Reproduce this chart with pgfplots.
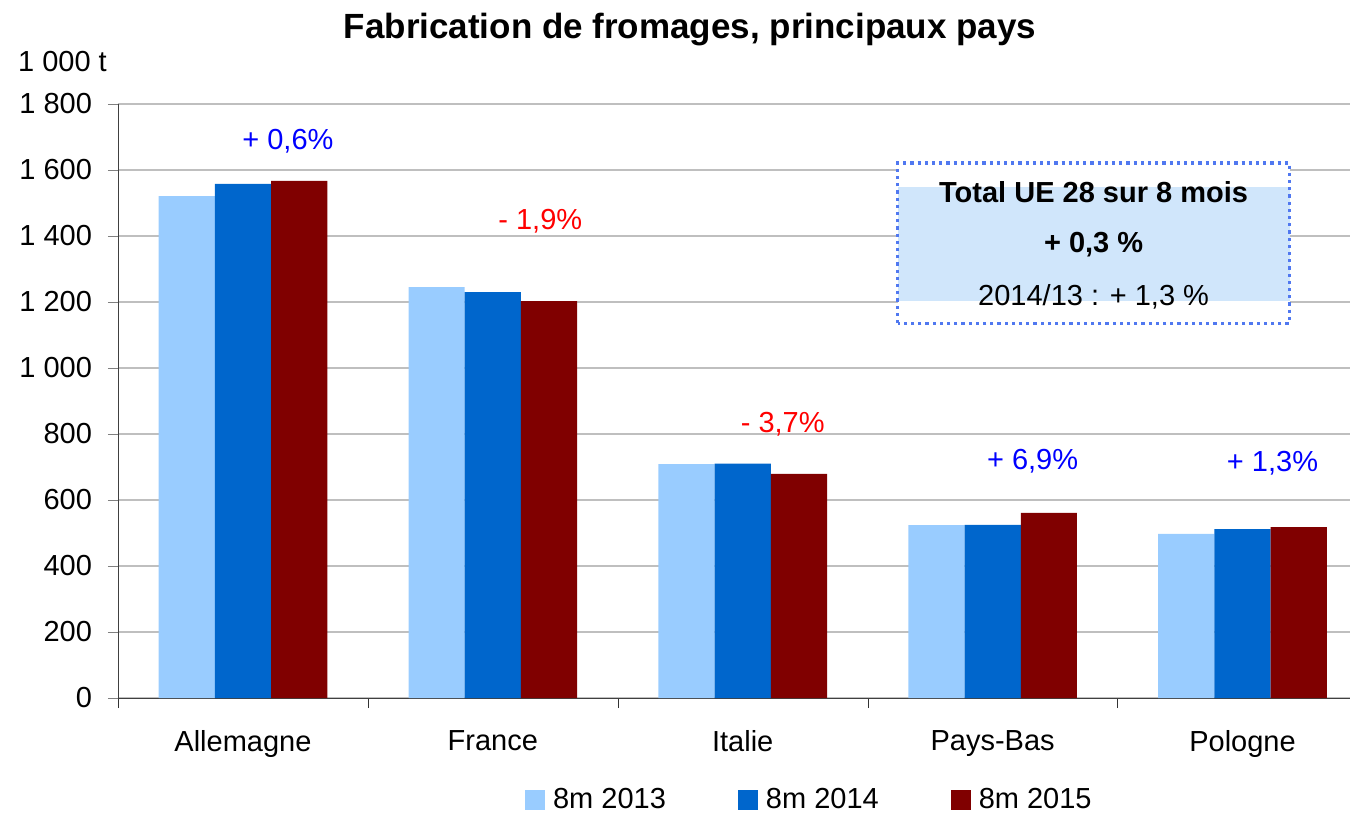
\documentclass[border=0pt]{standalone}
\usepackage{fontspec}
\setmainfont{Liberation Sans}
\usepackage{pgfplots}
\pgfplotsset{compat=1.18}

\definecolor{c13}{RGB}{153,204,255}
\definecolor{c14}{RGB}{0,102,204}
\definecolor{c15}{RGB}{128,0,0}
\definecolor{boxfill}{RGB}{208,230,251}
\definecolor{boxline}{RGB}{80,120,240}

\begin{document}
\fontsize{14.5}{17}\selectfont
\begin{tikzpicture}
\useasboundingbox (-59pt,-58pt) rectangle (616pt,349pt);
\begin{axis}[
    at={(0,0)}, anchor=south west,
    scale only axis,
    width=616pt, height=297pt,
    ybar=0pt, bar width=0.225,
    xmin=-0.5, xmax=4.43,
    ymin=0, ymax=1800,
    axis lines*=left,
    axis line style={draw=black!75},
    xtick={0,1,2,3,4},
    xticklabels={Allemagne,France,Italie,Pays-Bas,Pologne},
    major x tick style={draw=none},
    minor xtick={-0.5,0.5,1.5,2.5,3.5},
    minor x tick style={draw=black!80},
    minor tick length=5pt,
    ytick={0,200,...,1800},
    yticklabels={0,200,400,600,800,1 000,1 200,1 400,1 600,1 800},
    major tick length=5pt,
    tick align=outside,
    ymajorgrids,
    grid style={draw=black!25, line width=0.6pt},
    every tick label/.append style={font=\fontsize{14.5}{17}\selectfont},
    xticklabel style={yshift=-6pt},
    yticklabel style={xshift=-3pt},
    /pgf/number format/assume math mode=true,
    legend style={at={(0.562,-0.172)}, anchor=center, draw=none,
        legend columns=3, font=\fontsize{14.5}{17}\selectfont,
        /tikz/every odd column/.append style={column sep=2pt},
        /tikz/every even column/.append style={column sep=34pt}},
    legend image code/.code={\fill[#1] (0pt,-5pt) rectangle (10pt,5pt);},
    clip=false,
]
\addplot[draw=none, fill=c13] coordinates {(0,1521) (1,1245) (2,709) (3,524) (4,497)};
\addplot[draw=none, fill=c14] coordinates {(0,1558) (1,1230) (2,710) (3,525) (4,512)};
\addplot[draw=none, fill=c15] coordinates {(0,1567) (1,1203) (2,679) (3,561) (4,518)};
\legend{8m 2013,8m 2014,8m 2015}

\node[text=blue] at (axis cs:0.18,1688) {+ 0,6\%};
\node[text=red] at (axis cs:1.19,1445) {- 1,9\%};
\node[text=red] at (axis cs:2.16,830) {- 3,7\%};
\node[text=blue] at (axis cs:3.16,718) {+ 6,9\%};
\node[text=blue] at (axis cs:4.12,712) {+ 1,3\%};

\fill[white] (axis cs:2.62,1136) rectangle (axis cs:4.188,1621);
\fill[boxfill] (axis cs:2.62,1203) rectangle (axis cs:4.188,1548);
\draw[boxline, dotted, line width=1.6pt] (axis cs:2.62,1136) rectangle (axis cs:4.188,1621);
\node[font=\bfseries\fontsize{14.5}{17}\selectfont] at (axis cs:3.404,1533) {Total UE 28 sur 8 mois};
\node[font=\bfseries\fontsize{14.5}{17}\selectfont] at (axis cs:3.404,1375) {+ 0,3 \%};
\node at (axis cs:3.404,1216) {2014/13 : + 1,3 \%};
\end{axis}
\node at (286pt,334pt) {\bfseries\fontsize{17.5}{20}\selectfont Fabrication de fromages, principaux pays};
\node at (-27.75pt,318pt) {1 000 t};
\end{tikzpicture}
\end{document}
